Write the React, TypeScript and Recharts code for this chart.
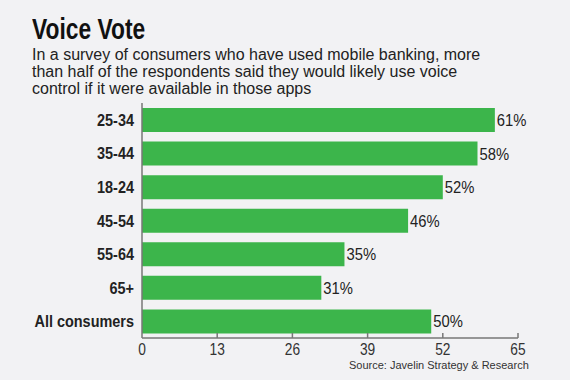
import React from 'react';
import { BarChart, Bar, XAxis, YAxis, LabelList } from 'recharts';

const groups = ['25-34', '35-44', '18-24', '45-54', '55-64', '65+', 'All consumers'];
const shares = [61, 58, 52, 46, 35, 31, 50];
const xTicks = [0, 13, 26, 39, 52, 65];

const data = groups.map((name, i) => ({ name, value: shares[i] }));

const sans = '"Liberation Sans", Arial, sans-serif';

// condensed look: Helvetica Condensed isn't around, so squeeze Liberation Sans
const XTick = (props: any) => {
  const { x, y, payload } = props;
  return (
    <g>
      {payload.value !== 0 && <line x1={x} x2={x} y1={y - 5} y2={y} stroke="#777" strokeWidth={1.5} />}
      <text transform={`translate(${x},${y + 17}) scale(0.86,1)`} textAnchor="middle" fontFamily={sans} fontSize={16} fill="#333">
        {payload.value}
      </text>
    </g>
  );
};

const YTick = (props: any) => {
  const { x, y, payload } = props;
  return (
    <text transform={`translate(${x},${y + 6}) scale(0.85,1)`} textAnchor="end" fontFamily={sans} fontWeight="bold" fontSize={17} fill="#222">
      {payload.value}
    </text>
  );
};

const ValueLabel = (props: any) => {
  const { x, y, width, height, value } = props;
  return (
    <text transform={`translate(${x + width + 2},${y + height / 2 + 6}) scale(0.87,1)`} fontFamily={sans} fontSize={17} fill="#222">
      {value}%
    </text>
  );
};

export default function App() {
  return (
    <div style={{ position: 'absolute', left: 0, top: 0, width: 570, height: 380, background: '#f2f2f4', overflow: 'hidden' }}>
      <div style={{ position: 'absolute', left: 32, top: 12, fontFamily: sans, fontWeight: 'bold', fontSize: 30, color: '#111', lineHeight: '34px', transform: 'scaleX(0.76)', transformOrigin: 'left top', whiteSpace: 'nowrap' }}>
        Voice Vote
      </div>
      <div style={{ position: 'absolute', left: 32, top: 46, width: 520, fontFamily: sans, fontSize: 16, color: '#222', lineHeight: '17px' }}>
        In a survey of consumers who have used mobile banking, more<br />
        than half of the respondents said they would likely use voice<br />
        control if it were available in those apps
      </div>
      <BarChart
        width={570}
        height={380}
        data={data}
        layout="vertical"
        margin={{ top: 103, right: 52, bottom: 0, left: 0 }}
        barCategoryGap={5}
      >
        <XAxis
          type="number"
          domain={[0, 65]}
          ticks={xTicks}
          interval={0}
          tickLine={false}
          tickSize={0}
          tickMargin={0}
          tick={<XTick />}
          axisLine={{ stroke: '#777', strokeWidth: 1.5 }}
          height={42}
        />
        <YAxis
          type="category"
          dataKey="name"
          width={142}
          tickLine={false}
          tickSize={0}
          tickMargin={8}
          axisLine={{ stroke: '#777', strokeWidth: 1.5 }}
          tick={<YTick />}
        />
        <Bar dataKey="value" fill="#3cb54b" barSize={24} isAnimationActive={false}>
          <LabelList dataKey="value" content={<ValueLabel />} />
        </Bar>
      </BarChart>
      <div style={{ position: 'absolute', left: 349, top: 359, fontFamily: sans, fontSize: 11, color: '#333', whiteSpace: 'nowrap' }}>
        Source: Javelin Strategy &amp; Research
      </div>
    </div>
  );
}
